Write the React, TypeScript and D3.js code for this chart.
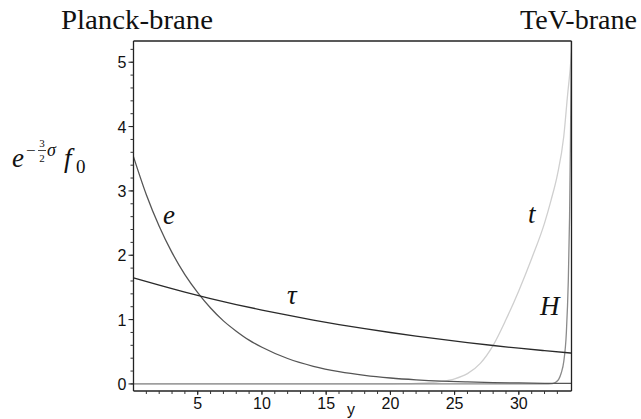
import React from "react";
import * as d3 from "d3";

// Zero-mode profiles along the extra dimension y
const eX = [0, 1, 2, 3, 4, 5, 6, 7, 8, 9, 10, 12, 14, 16, 18, 20, 22, 24, 26, 28, 30, 32, 34.1];
const eY = [3.53, 2.94, 2.45, 2.04, 1.7, 1.42, 1.18, 0.98, 0.82, 0.68, 0.57, 0.395, 0.274, 0.19, 0.132, 0.092, 0.064, 0.044, 0.031, 0.021, 0.015, 0.01, 0.007];

const tauX = [0, 2, 4, 6, 8, 10, 12, 14, 16, 18, 20, 22, 24, 26, 28, 30, 32, 34.1];
const tauY = [1.65, 1.535, 1.427, 1.327, 1.234, 1.148, 1.068, 0.993, 0.923, 0.859, 0.799, 0.743, 0.691, 0.642, 0.597, 0.555, 0.517, 0.479];

const tX = [0, 10, 20, 21, 22, 23, 24, 25, 26, 27, 28, 29, 30, 31, 32, 32.5, 33, 33.5, 33.8, 34.0, 34.1];
const tY = [0, 0, 0.002, 0.005, 0.01, 0.02, 0.04, 0.08, 0.16, 0.32, 0.6, 1.0, 1.45, 1.95, 2.5, 2.85, 3.25, 3.85, 4.5, 4.9, 5.15];

const hX = [0, 10, 20, 30, 32, 32.6, 32.9, 33.1, 33.3, 33.5, 33.7, 33.85, 33.95, 34.02, 34.1];
const hY = [0, 0, 0, 0, 0, 0.005, 0.03, 0.07, 0.17, 0.35, 0.8, 1.6, 2.6, 3.8, 5.6];

const xTickLabels = [5, 10, 15, 20, 25, 30];
const yTickLabels = [0, 1, 2, 3, 4, 5];
const xMinorTicks = d3.range(1, 34, 1);
const yMinorTicks = d3.range(0, 5.3, 0.2);

const W = 641;
const H = 419;

export default function App() {
  const x = d3.scaleLinear().domain([0, 34.1]).range([133.5, 571.5]);
  const y = d3.scaleLinear().domain([-0.11, 5.33]).range([391, 41]);

  const line = (xs: number[], ys: number[]) =>
    d3
      .line<number>()
      .x((_, i) => x(xs[i]))
      .y((_, i) => y(ys[i]))
      .curve(d3.curveMonotoneX)(ys) || "";

  const [x0, x1] = x.range();
  const [yb, yt] = y.range();
  const serif = "'Liberation Serif', 'Times New Roman', serif";
  const sans = "'Liberation Sans', Arial, Helvetica, sans-serif";

  return (
    <svg width={W} height={H} style={{ position: "absolute", left: 0, top: 0, background: "#fff" }}>
      <defs>
        <clipPath id="plotClip">
          <rect x={x0} y={yt} width={x1 - x0} height={yb - yt} />
        </clipPath>
      </defs>

      {/* brane labels */}
      <text x={61} y={29} fontFamily={serif} fontSize={28} fill="#111" textLength={152} lengthAdjust="spacingAndGlyphs">Planck-brane</text>
      <text x={520} y={29} fontFamily={serif} fontSize={28} fill="#111" textLength={117} lengthAdjust="spacingAndGlyphs">TeV-brane</text>

      {/* curves */}
      <g clipPath="url(#plotClip)" fill="none" strokeWidth={1.3}>
        <path d={line(tX, tY)} stroke="#cfcfcf" />
        <path d={line(hX, hY)} stroke="#8a8a8a" />
        <path d={line(eX, eY)} stroke="#555" />
        <path d={line(tauX, tauY)} stroke="#2a2a2a" />
      </g>

      {/* frame */}
      <line x1={x0} x2={x1} y1={yt} y2={yt} stroke="#222" strokeWidth={1.3} />
      <line x1={x1} x2={x1} y1={yt} y2={yb} stroke="#222" strokeWidth={1.3} />
      <line x1={x0} x2={x1} y1={yb} y2={yb} stroke="#222" strokeWidth={1.3} />
      <line x1={x0} x2={x0} y1={yt} y2={yb} stroke="#222" strokeWidth={1.3} />

      {/* x ticks */}
      {xMinorTicks.map((v) => (
        <line key={"xm" + v} x1={x(v)} x2={x(v)} y1={yb} y2={yb + 3} stroke="#333" strokeWidth={1} />
      ))}
      {xTickLabels.map((v) => (
        <g key={"xt" + v}>
          <line x1={x(v)} x2={x(v)} y1={yb} y2={yb + 4} stroke="#222" strokeWidth={1} />
          <text x={x(v)} y={409} textAnchor="middle" fontFamily={sans} fontSize={16} fill="#111">{v}</text>
        </g>
      ))}
      <text x={351} y={415} textAnchor="middle" fontFamily={sans} fontSize={16} fill="#111">y</text>

      {/* y ticks */}
      {yMinorTicks.map((v) => (
        <line key={"ym" + v.toFixed(1)} x1={x0 - 3} x2={x0} y1={y(v)} y2={y(v)} stroke="#333" strokeWidth={1} />
      ))}
      {yTickLabels.map((v) => (
        <g key={"yt" + v}>
          <line x1={x0 - 5} x2={x0} y1={y(v)} y2={y(v)} stroke="#222" strokeWidth={1} />
          <text x={x0 - 7} y={y(v) + 6} textAnchor="end" fontFamily={sans} fontSize={16} fill="#111">{v}</text>
        </g>
      ))}

      {/* y-axis label: e^{-3/2 sigma} f_0 */}
      <g fontFamily={serif} fill="#111">
        <text x={12} y={167} fontSize={27} fontStyle="italic">e</text>
        <text x={26} y={156} fontSize={17}>−</text>
        <text x={42} y={147} fontSize={11} textAnchor="middle">3</text>
        <line x1={38} x2={46} y1={150.5} y2={150.5} stroke="#111" strokeWidth={0.8} />
        <text x={42} y={162} fontSize={11} textAnchor="middle">2</text>
        <text x={47} y={156} fontSize={18} fontStyle="italic">σ</text>
        <text x={64} y={167} fontSize={27} fontStyle="italic">f</text>
        <text x={76} y={173} fontSize={19}>0</text>
      </g>

      {/* curve labels */}
      <g fontFamily={serif} fontStyle="italic" fontSize={27} fill="#111">
        <text x={163} y={224}>e</text>
        <text x={287} y={304}>τ</text>
        <text x={528} y={223}>t</text>
        <text x={540} y={315}>H</text>
      </g>
    </svg>
  );
}
